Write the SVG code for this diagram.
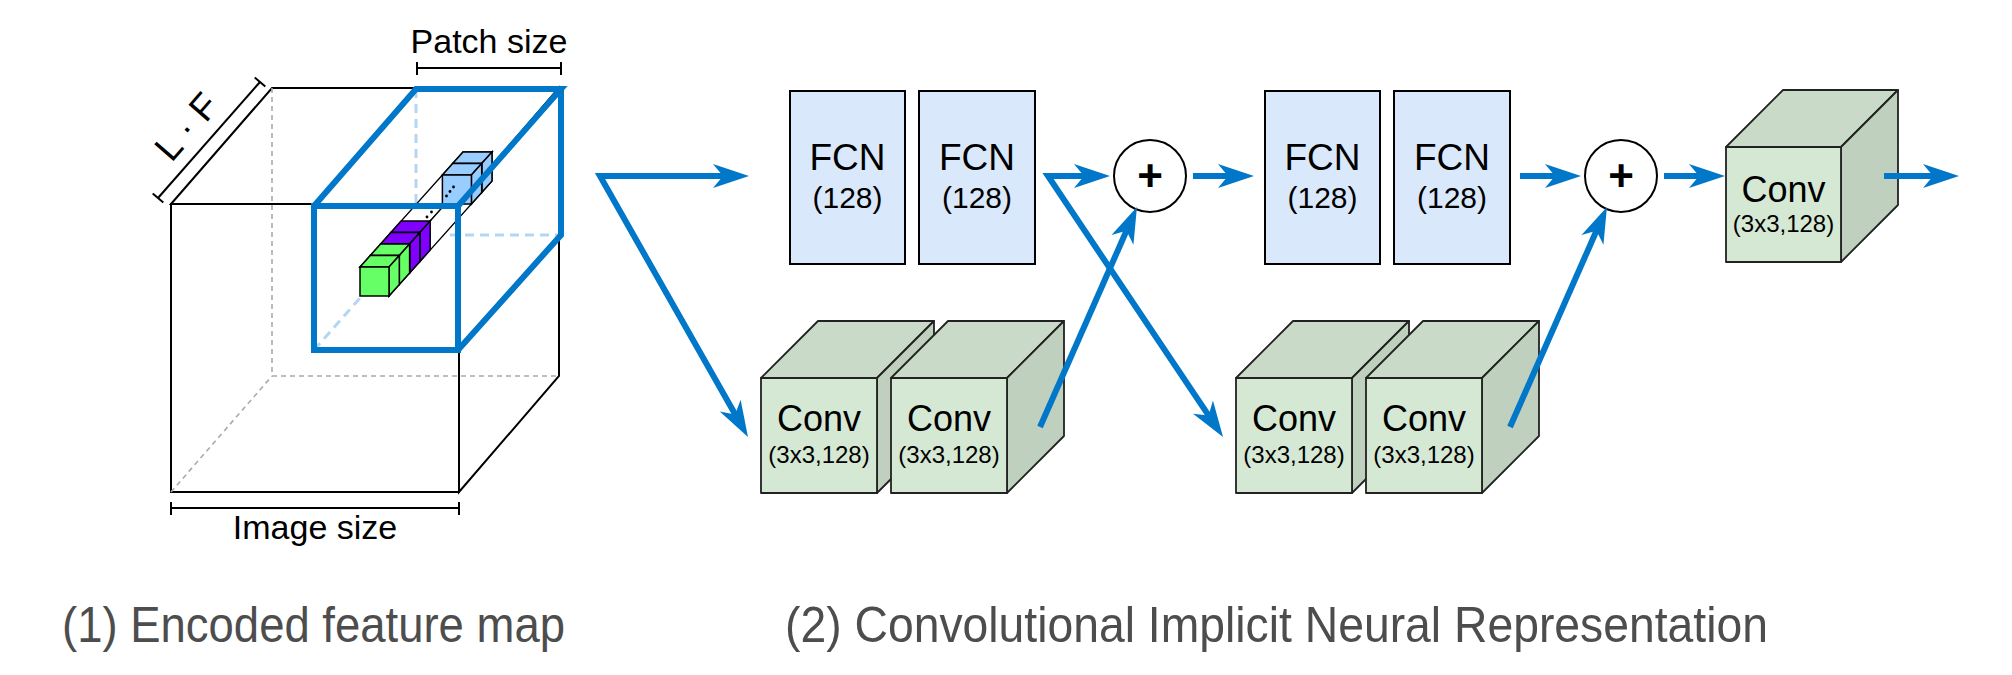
<svg xmlns="http://www.w3.org/2000/svg" width="2012" height="675" viewBox="0 0 2012 675">
<style>
text{font-family:"Liberation Sans",Arial,sans-serif;fill:#000}
.edge{fill:#fff;stroke:#000;stroke-width:2;stroke-linejoin:miter}
.gdash{fill:none;stroke:#aaa;stroke-width:1.6;stroke-dasharray:5 4}
.bdash{fill:none;stroke:#b3d7f2;stroke-width:3;stroke-dasharray:9 6}
.patch{fill:none;stroke:#0077c8;stroke-width:6;stroke-linejoin:miter}
.brk{fill:none;stroke:#000;stroke-width:2}
.col{fill:#fff;stroke:#000;stroke-width:1.3}
.sg{fill:#66ff66;stroke:#000;stroke-width:1.5}
.sp{fill:#7f00ff;stroke:#000;stroke-width:1.5}
.sb{fill:#99ccff;stroke:#000;stroke-width:1.5}
.fcn{fill:#dae8fc;stroke:#000;stroke-width:2}
.cf{fill:#d5e8d4;stroke:#222;stroke-width:1.8;stroke-linejoin:round}
.ct{fill:#c9dbc8;stroke:#222;stroke-width:1.8;stroke-linejoin:round}
.cs{fill:#bfd1be;stroke:#222;stroke-width:1.8;stroke-linejoin:round}
.sum{fill:#fff;stroke:#000;stroke-width:2}
.conn{fill:none;stroke:#0077c8;stroke-width:6;stroke-linejoin:miter}
.t1{font-size:34px;text-anchor:middle}
.f1{font-size:37px;text-anchor:middle}
.t2{font-size:30px;text-anchor:middle}
.t3{font-size:36px;text-anchor:middle}
.t4{font-size:24px;text-anchor:middle}
.cap{font-size:50px;fill:#4d4d4d}
</style>
<defs>
<marker id="arr" markerUnits="userSpaceOnUse" markerWidth="40" markerHeight="28" refX="16" refY="13" orient="auto-start-reverse" viewBox="0 0 40 28">
<path d="M0,1 L36,13 L0,25 L10,13 Z" fill="#0077c8"/>
</marker>
</defs>

<g id="feature-map">
  <rect class="edge" x="171" y="204" width="288" height="288"/>
  <polygon class="edge" points="171,204 272,88 559,88 459,204"/>
  <polygon class="edge" points="459,204 559,88 559,376 459,492"/>
  <polyline class="gdash" points="272,88 272,376 559,376"/>
  <line class="gdash" x1="171" y1="492" x2="272" y2="376"/>
  <polyline class="bdash" points="416,89 416,235 561,235"/>
  <line class="bdash" x1="314" y1="350" x2="416" y2="235"/>
  <g id="column">
    <polygon class="col" points="360,267 463,152 492,152 389,267"/>
    <polygon class="col" points="389,267 492,152 492,181 389,296"/>
    <circle cx="427" cy="217" r="1.4"/>
    <circle cx="431.5" cy="212" r="1.4"/>
    <polygon class="sb" points="452.7,163.5 463,152 492,152 481.7,163.5"/>
    <polygon class="sb" points="481.7,163.5 492,152 492,181 481.7,192.5"/>
    <rect class="sb" x="452.7" y="163.5" width="29" height="29"/>
    <polygon class="sb" points="442.4,175 452.7,163.5 481.7,163.5 471.4,175"/>
    <polygon class="sb" points="471.4,175 481.7,163.5 481.7,192.5 471.4,204"/>
    <rect class="sb" x="442.4" y="175" width="29" height="29"/>
    <circle cx="446.5" cy="196" r="1.4"/>
    <circle cx="450" cy="191.5" r="1.4"/>
    <circle cx="453.5" cy="187" r="1.4"/>
    <polygon class="sp" points="390.9,232.5 401.2,221 430.2,221 419.9,232.5"/>
    <polygon class="sp" points="419.9,232.5 430.2,221 430.2,250 419.9,261.5"/>
    <rect class="sp" x="390.9" y="232.5" width="29" height="29"/>
    <polygon class="sp" points="380.6,244 390.9,232.5 419.9,232.5 409.6,244"/>
    <polygon class="sp" points="409.6,244 419.9,232.5 419.9,261.5 409.6,273"/>
    <rect class="sp" x="380.6" y="244" width="29" height="29"/>
    <polygon class="sg" points="370.3,255.5 380.6,244 409.6,244 399.3,255.5"/>
    <polygon class="sg" points="399.3,255.5 409.6,244 409.6,273 399.3,284.5"/>
    <rect class="sg" x="370.3" y="255.5" width="29" height="29"/>
    <polygon class="sg" points="360,267 370.3,255.5 399.3,255.5 389,267"/>
    <polygon class="sg" points="389,267 399.3,255.5 399.3,284.5 389,296"/>
    <rect class="sg" x="360" y="267" width="29" height="29"/>
  </g>
  <g id="patch">
    <rect class="patch" x="314" y="206" width="144" height="144"/>
    <polyline class="patch" points="314,206 416,89 561,89 458,206"/>
    <polyline class="patch" points="561,89 561,235 458,350"/>
  </g>
  <g id="patch-size">
    <line class="brk" x1="417" y1="68" x2="561" y2="68"/>
    <line class="brk" x1="417" y1="62" x2="417" y2="75"/>
    <line class="brk" x1="561" y1="62" x2="561" y2="75"/>
    <text class="t1" x="489" y="53">Patch size</text>
  </g>
  <g id="image-size">
    <line class="brk" x1="171" y1="508" x2="459" y2="508"/>
    <line class="brk" x1="171" y1="502" x2="171" y2="515"/>
    <line class="brk" x1="459" y1="502" x2="459" y2="515"/>
    <text class="t1" x="315" y="539">Image size</text>
  </g>
  <g id="lf">
    <line class="brk" x1="158" y1="198" x2="260" y2="82"/>
    <line class="brk" x1="152.7" y1="193.4" x2="163.3" y2="202.6"/>
    <line class="brk" x1="254.7" y1="77.4" x2="265.3" y2="86.6"/>
    <text class="t1" style="font-size:37px" transform="translate(196,135) rotate(-49)">L · F</text>
  </g>
</g>

<g id="fcn1"><rect class="fcn" x="790" y="91" width="115" height="173"/><text class="f1" x="847.5" y="170">FCN</text><text class="t2" x="847.5" y="208">(128)</text></g>
<g id="fcn2"><rect class="fcn" x="919" y="91" width="116" height="173"/><text class="f1" x="977" y="170">FCN</text><text class="t2" x="977" y="208">(128)</text></g>
<g id="fcn3"><rect class="fcn" x="1265" y="91" width="115" height="173"/><text class="f1" x="1322.5" y="170">FCN</text><text class="t2" x="1322.5" y="208">(128)</text></g>
<g id="fcn4"><rect class="fcn" x="1394" y="91" width="116" height="173"/><text class="f1" x="1452" y="170">FCN</text><text class="t2" x="1452" y="208">(128)</text></g>

<g id="conv1">
  <polygon class="ct" points="761,378 818,321 934,321 877,378"/>
  <polygon class="cs" points="877,378 934,321 934,436 877,493"/>
  <rect class="cf" x="761" y="378" width="116" height="115"/>
  <text class="t3" x="819" y="431">Conv</text><text class="t4" x="819" y="463">(3x3,128)</text>
</g>
<g id="conv2">
  <polygon class="ct" points="891,378 948,321 1064,321 1007,378"/>
  <polygon class="cs" points="1007,378 1064,321 1064,436 1007,493"/>
  <rect class="cf" x="891" y="378" width="116" height="115"/>
  <text class="t3" x="949" y="431">Conv</text><text class="t4" x="949" y="463">(3x3,128)</text>
</g>
<g id="conv3">
  <polygon class="ct" points="1236,378 1293,321 1409,321 1352,378"/>
  <polygon class="cs" points="1352,378 1409,321 1409,436 1352,493"/>
  <rect class="cf" x="1236" y="378" width="116" height="115"/>
  <text class="t3" x="1294" y="431">Conv</text><text class="t4" x="1294" y="463">(3x3,128)</text>
</g>
<g id="conv4">
  <polygon class="ct" points="1366,378 1423,321 1539,321 1482,378"/>
  <polygon class="cs" points="1482,378 1539,321 1539,436 1482,493"/>
  <rect class="cf" x="1366" y="378" width="116" height="115"/>
  <text class="t3" x="1424" y="431">Conv</text><text class="t4" x="1424" y="463">(3x3,128)</text>
</g>
<g id="conv5">
  <polygon class="ct" points="1726,147 1783,90 1898,90 1841,147"/>
  <polygon class="cs" points="1841,147 1898,90 1898,205 1841,262"/>
  <rect class="cf" x="1726" y="147" width="115" height="115"/>
  <text class="t3" x="1783.5" y="202">Conv</text><text class="t4" x="1783.5" y="232">(3x3,128)</text>
</g>

<g id="sum1"><circle class="sum" cx="1150" cy="176" r="36"/><text x="1150" y="191" style="font-size:44px;font-weight:bold;text-anchor:middle">+</text></g>
<g id="sum2"><circle class="sum" cx="1621" cy="176" r="36"/><text x="1621" y="191" style="font-size:44px;font-weight:bold;text-anchor:middle">+</text></g>

<g id="connectors">
  <path class="conn" d="M729,176 L600,176 L738.1,419.6" marker-start="url(#arr)" marker-end="url(#arr)"/>
  <path class="conn" d="M1090,176 L1048,176 L1211.9,420.4" marker-start="url(#arr)" marker-end="url(#arr)"/>
  <path class="conn" d="M1040,427 L1128.9,225.3" marker-end="url(#arr)"/>
  <path class="conn" d="M1510,427 L1598.9,225.3" marker-end="url(#arr)"/>
  <path class="conn" d="M1193,176 L1234,176" marker-end="url(#arr)"/>
  <path class="conn" d="M1520,176 L1561,176" marker-end="url(#arr)"/>
  <path class="conn" d="M1664,176 L1705,176" marker-end="url(#arr)"/>
  <path class="conn" d="M1884,176 L1939,176" marker-end="url(#arr)"/>
</g>

<g id="captions">
  <text class="cap" x="62" y="642" textLength="503" lengthAdjust="spacingAndGlyphs">(1) Encoded feature map</text>
  <text class="cap" x="785" y="642" textLength="983" lengthAdjust="spacingAndGlyphs">(2) Convolutional Implicit Neural Representation</text>
</g>
</svg>
